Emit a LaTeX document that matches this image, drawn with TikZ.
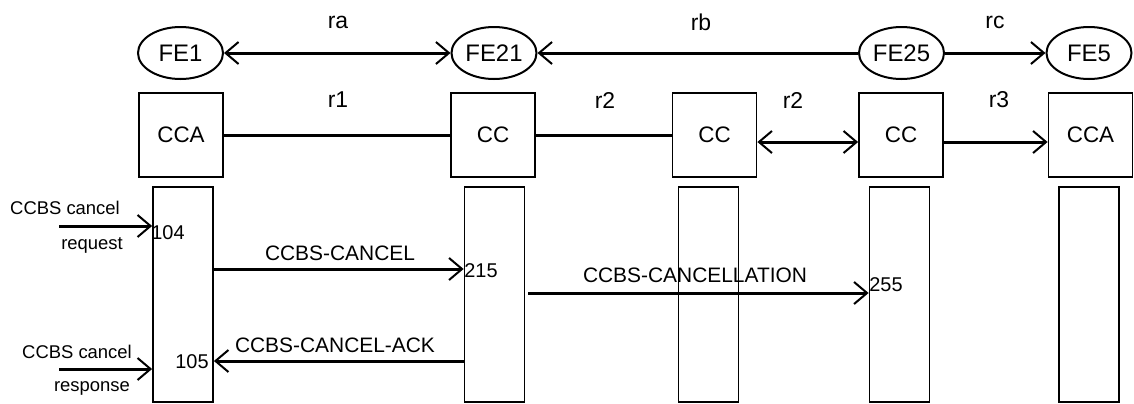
\documentclass[tikz,border=0pt]{standalone}
\usepackage{fontspec}
\setmainfont{Liberation Sans}
\usetikzlibrary{shapes.geometric,arrows.meta}
\begin{document}
\begin{tikzpicture}[x=1bp,y=1bp,
  fe/.style={ellipse, draw, line width=2bp, minimum width=85bp, minimum height=52bp, inner sep=0pt, font=\fontsize{24}{26}\selectfont},
  fbox/.style={rectangle, draw, line width=1.8bp, minimum width=84bp, minimum height=84bp, inner sep=0pt, font=\fontsize{22.5}{25}\selectfont},
  life/.style={rectangle, draw, line width=1.8bp, minimum width=60bp, minimum height=215bp, inner sep=0pt},
  conn/.style={line width=3bp, >={Straight Barb[length=13bp,width=22bp,line width=2bp]}},
  toplbl/.style={inner sep=0pt, font=\fontsize{23}{26}\selectfont},
  msg/.style={inner sep=0pt, font=\fontsize{21}{24}\selectfont},
  side/.style={inner sep=0pt, font=\fontsize{18.5}{21}\selectfont},
  num/.style={inner sep=0pt, font=\fontsize{20}{23}\selectfont}]
\useasboundingbox (0,0) rectangle (1134,-403);
% functional entities
\node[fe] (fe1)  at (180.5,-53) {FE1};
\node[fe] (fe21) at (494,-53) {FE21};
\node[fe] (fe25) at (901.5,-53) {FE25};
\node[fe] (fe5)  at (1089,-53) {FE5};
\node[toplbl] (ra) at (338,-22) {ra};
\node[toplbl] (rb) at (701,-22) {rb};
\node[toplbl] (rc) at (995,-22) {rc};
\draw[conn,<->] (fe1) -- (fe21);
\draw[conn,->] (fe25) -- (fe21);
\draw[conn,->] (fe25) -- (fe5);
% boxes
\node[fbox] (cca1) at (181,-135) {CCA};
\node[fbox] (cc2)  at (493,-135) {CC};
\node[fbox] (cc3)  at (714.5,-135) {CC};
\node[fbox] (cc4)  at (901,-135) {CC};
\node[fbox] (cca5) at (1090.5,-135) {CCA};
\node[toplbl] (r1) at (338,-100) {r1};
\node[toplbl] (r2a) at (605,-100) {r2};
\node[toplbl] (r2b) at (793,-100) {r2};
\node[toplbl] (r3) at (999,-100) {r3};
\draw[conn] (cca1) -- (cc2);
\draw[conn] (cc2) -- (cc3);
\draw[conn,<->] ([yshift=-7bp]cc3.east) -- ([yshift=-7bp]cc4.west);
\draw[conn,->] ([yshift=-7bp]cc4.east) -- ([yshift=-7bp]cca5.west);
% lifelines
\node[life] (l1) at (183,-294.5) {};
\node[life] (l2) at (494.5,-294.5) {};
\node[life] (l4) at (899.5,-294.5) {};
\node[life] (l5) at (1089,-294.5) {};
% inputs
\coordinate (in1) at (59,-226);
\coordinate (in2) at (59,-369);
\draw[conn,->] (in1) -- (l1.west |- in1);
\draw[conn,->] (in2) -- (l1.west |- in2);
\node[side] (req1) at (65,-208) {CCBS cancel};
\node[side] (req2) at (92,-245) {request};
\node[side] (rsp1) at (77,-352) {CCBS cancel};
\node[side] (rsp2) at (92,-388) {response};
\node[num] (n104) at (168,-233) {104};
\node[num] (n105) at (192,-362) {105};
% messages
\coordinate (m1) at (0,-269);
\coordinate (m2) at (0,-293);
\coordinate (m3) at (0,-361);
\draw[conn,->] (l1.east |- m1) -- (l2.west |- m1);
\node[msg] (lcancel) at (340,-253) {CCBS-CANCEL};
\node[num] (n215) at (481,-271) {215};
\node[msg] (lcancellation) at (695,-275) {CCBS-CANCELLATION};
\node[life] (l3) at (708.5,-294.5) {};
\draw[conn,->] ([xshift=3bp]l2.east |- m2) -- (l4.west |- m2);
\node[num] (n255) at (886,-285) {255};
\draw[conn,->] (l2.west |- m3) -- (l1.east |- m3);
\node[msg] (lack) at (335,-345) {CCBS-CANCEL-ACK};
\end{tikzpicture}
\end{document}
